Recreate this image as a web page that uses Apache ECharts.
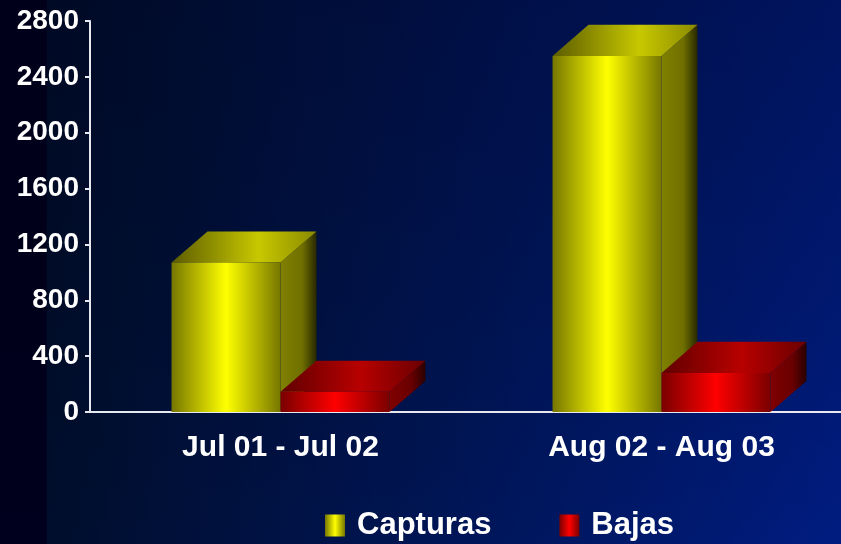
<!DOCTYPE html>
<html style="height: 100%">
<head>
    <meta charset="utf-8">
</head>
<body style="height: 100%; margin: 0">
<div id="container" style="height: 100%"></div>

<script type="text/javascript" src="https://cdn.jsdelivr.net/npm/echarts@6/dist/echarts.min.js"></script>
<script type="text/javascript">
    // datos
    var categories = ['Jul 01 - Jul 02', 'Aug 02 - Aug 03'];
    var capturas = [1070, 2550];
    var bajas = [145, 280];
    var yTicks = [0, 400, 800, 1200, 1600, 2000, 2400, 2800];

    var dom = document.getElementById("container");
    var myChart = echarts.init(dom);
    var LG = echarts.graphic.LinearGradient;

    var shades = {
        yellow: {
            front: new LG(0, 0, 1, 0, [
                {offset: 0, color: '#767600'}, {offset: 0.5, color: '#ffff00'}, {offset: 1, color: '#767600'}]),
            top: new LG(0, 0, 1, 0, [
                {offset: 0, color: '#5c5c00'}, {offset: 0.6, color: '#c8c800'}, {offset: 1, color: '#8a8a00'}]),
            side: new LG(0, 0, 1, 0, [
                {offset: 0, color: '#808000'}, {offset: 0.6, color: '#707000'}, {offset: 1, color: '#282800'}])
        },
        red: {
            front: new LG(0, 0, 1, 0, [
                {offset: 0, color: '#7a0000'}, {offset: 0.5, color: '#ff0000'}, {offset: 1, color: '#7a0000'}]),
            top: new LG(0, 0, 1, 0, [
                {offset: 0, color: '#600000'}, {offset: 0.55, color: '#b80000'}, {offset: 1, color: '#6a0000'}]),
            side: new LG(0, 0, 1, 0, [
                {offset: 0, color: '#800000'}, {offset: 0.6, color: '#6a0000'}, {offset: 1, color: '#2a0000'}])
        }
    };

    function makeRender(shade, slot) {
        return function (params, api) {
            var cat = api.value(0);
            var base = api.coord([cat, 0]);
            var top = api.coord([cat, api.value(1)]);
            var band = api.size([1, 0])[0];
            var w = band * 0.286;
            var dx = w * 0.33, dy = w * 0.285;
            var x0 = base[0] + (slot - 1) * w;
            var x1 = x0 + w;
            var y0 = base[1], yt = top[1];
            return {
                type: 'group',
                children: [
                    {type: 'polygon', shape: {points: [[x1, yt], [x1 + dx, yt - dy], [x1 + dx, y0 - dy], [x1, y0]]},
                        style: {fill: shade.side}},
                    {type: 'polygon', shape: {points: [[x0, yt], [x0 + dx, yt - dy], [x1 + dx, yt - dy], [x1, yt]]},
                        style: {fill: shade.top}},
                    {type: 'rect', shape: {x: x0, y: yt, width: w, height: y0 - yt},
                        style: {fill: shade.front}}
                ]
            };
        };
    }

    var labelFont = {color: '#ffffff', fontWeight: 'bold', fontFamily: 'Liberation Sans', fontSize: 28};

    var option = {
        backgroundColor: new LG(0, 0, 1, 0, [
            {offset: 0, color: '#00001e'}, {offset: 0.055, color: '#00001e'},
            {offset: 0.056, color: '#000e2c'}, {offset: 1, color: '#001c80'}]),
        graphic: [{
            type: 'rect', z: -1, silent: true,
            shape: {x: 0, y: 0, width: 841, height: 544},
            style: {fill: new LG(0, 0, 0, 1, [
                {offset: 0, color: 'rgba(0,0,20,0.3)'}, {offset: 1, color: 'rgba(0,0,0,0)'}])}
        }],
        grid: {left: 90, width: 762, top: 21, height: 391, outerBoundsMode: 'none', containLabel: false},
        legend: {
            left: 320, bottom: -2,
            itemWidth: 20, itemHeight: 22, itemGap: 68,
            icon: 'rect',
            textStyle: {color: '#ffffff', fontWeight: 'bold', fontFamily: 'Liberation Sans', fontSize: 31,
                padding: [0, 0, 0, 7]},
            data: ['Capturas', 'Bajas']
        },
        xAxis: {
            type: 'category',
            data: categories,
            axisLine: {lineStyle: {color: '#e8e8f0', width: 2}},
            axisTick: {length: 6, lineStyle: {color: '#e8e8f0', width: 2}},
            axisLabel: Object.assign({margin: 21}, labelFont, {fontSize: 30})
        },
        yAxis: {
            type: 'value',
            min: yTicks[0], max: yTicks[yTicks.length - 1], interval: 400,
            splitLine: {show: false},
            axisLine: {show: true, lineStyle: {color: '#e8e8f0', width: 2}},
            axisTick: {show: true, length: 5, lineStyle: {color: '#e8e8f0', width: 2}},
            axisLabel: Object.assign({margin: 11, formatter: function (v) { return String(v); }}, labelFont)
        },
        series: [
            {
                name: 'Capturas', type: 'custom',
                itemStyle: {color: shades.yellow.front},
                renderItem: makeRender(shades.yellow, 0),
                data: capturas.map(function (v, i) { return [i, v]; })
            },
            {
                name: 'Bajas', type: 'custom',
                itemStyle: {color: shades.red.front},
                renderItem: makeRender(shades.red, 1),
                data: bajas.map(function (v, i) { return [i, v]; })
            }
        ]
    };

    myChart.setOption(option);
</script>
</body>
</html>
